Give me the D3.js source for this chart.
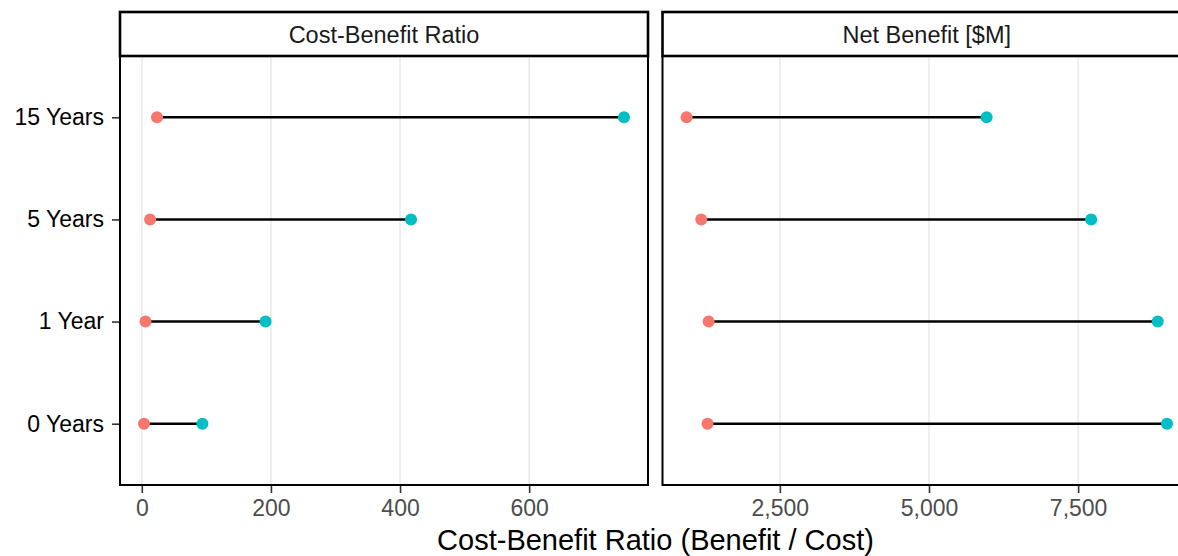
<!DOCTYPE html>
<html>
<head>
<meta charset="utf-8">
<script src="https://cdn.jsdelivr.net/npm/d3@7"></script>
<style>
html,body{margin:0;padding:0;background:#fff;overflow:hidden;}
svg{display:block;}
text{font-family:"Liberation Sans",Arial,sans-serif;}
</style>
</head>
<body>
<svg id="chart" width="1200" height="556"></svg>
<script>
const categories = ["0 Years", "1 Year", "5 Years", "15 Years"];
const ratioLow  = [3.4, 5.7, 12.8, 23.5];
const ratioHigh = [93.9, 191.7, 417, 746.9];
const netLow    = [1288, 1306, 1183, 936];
const netHigh   = [8989, 8834, 7718, 5966];
const ratioTicks = [0, 200, 400, 600];
const netTicks = [2500, 5000, 7500];
const panelTitles = ["Cost-Benefit Ratio", "Net Benefit [$M]"];
const xTitle = "Cost-Benefit Ratio (Benefit / Cost)";

const lowColor = "#F8766D", highColor = "#00BFC4";
const svg = d3.select("#chart");

const stripTop = 12, panelTop = 56, panelBottom = 485;
const panels = [
  {x0: 120, x1: 648, low: ratioLow, high: ratioHigh, ticks: ratioTicks, fmt: d3.format("d"), title: panelTitles[0]},
  {x0: 662.5, x1: 1191, low: netLow, high: netHigh, ticks: netTicks, fmt: d3.format(","), title: panelTitles[1]}
];

const y = d3.scalePoint().domain(categories).range([panelBottom, panelTop]).padding(0.6);

panels.forEach((p, pi) => {
  const all = p.low.concat(p.high);
  const [mn, mx] = d3.extent(all);
  const pad = (mx - mn) * 0.05;
  const x = d3.scaleLinear().domain([mn - pad, mx + pad]).range([p.x0, p.x1]);
  const g = svg.append("g");

  g.append("rect").attr("x", p.x0).attr("y", panelTop).attr("width", p.x1 - p.x0)
    .attr("height", panelBottom - panelTop).attr("fill", "#fff");

  g.selectAll("line.grid").data(p.ticks).enter().append("line")
    .attr("x1", d => x(d)).attr("x2", d => x(d))
    .attr("y1", panelTop).attr("y2", panelBottom)
    .attr("stroke", "#EBEBEB").attr("stroke-width", 1.6);

  const rows = categories.map((c, i) => ({c, lo: p.low[i], hi: p.high[i]}));
  g.selectAll("line.seg").data(rows).enter().append("line")
    .attr("x1", d => x(d.lo)).attr("x2", d => x(d.hi))
    .attr("y1", d => y(d.c)).attr("y2", d => y(d.c))
    .attr("stroke", "#000").attr("stroke-width", 2.4);

  g.selectAll("circle.lo").data(rows).enter().append("circle")
    .attr("cx", d => x(d.lo)).attr("cy", d => y(d.c)).attr("r", 6).attr("fill", lowColor);
  g.selectAll("circle.hi").data(rows).enter().append("circle")
    .attr("cx", d => x(d.hi)).attr("cy", d => y(d.c)).attr("r", 6).attr("fill", highColor);

  g.append("rect").attr("x", p.x0).attr("y", panelTop).attr("width", p.x1 - p.x0)
    .attr("height", panelBottom - panelTop).attr("fill", "none")
    .attr("stroke", "#000").attr("stroke-width", 2);

  g.append("rect").attr("x", p.x0).attr("y", stripTop).attr("width", p.x1 - p.x0)
    .attr("height", panelTop - stripTop).attr("fill", "#fff")
    .attr("stroke", "#000").attr("stroke-width", 2.6);
  g.append("text").attr("x", (p.x0 + p.x1) / 2).attr("y", 42.5)
    .attr("text-anchor", "middle").attr("font-size", 23.5).attr("fill", "#1A1A1A")
    .text(p.title);

  const ax = svg.append("g").attr("transform", `translate(0,${panelBottom + 1})`)
    .call(d3.axisBottom(x).tickValues(p.ticks).tickFormat(p.fmt).tickSize(7).tickPadding(7));
  ax.select(".domain").remove();
  ax.selectAll(".tick line").attr("stroke", "#333").attr("stroke-width", 1.6);
  ax.selectAll(".tick text").attr("fill", "#4D4D4D").attr("font-size", 23)
    .attr("font-family", "'Liberation Sans', Arial, sans-serif");

  if (pi === 0) {
    const ay = svg.append("g").attr("transform", `translate(${p.x0 - 1},0)`)
      .call(d3.axisLeft(y).tickSize(7).tickPadding(8));
    ay.select(".domain").remove();
    ay.selectAll(".tick line").attr("stroke", "#333").attr("stroke-width", 1.6);
    ay.selectAll(".tick text").attr("fill", "#000").attr("font-size", 23)
      .attr("font-family", "'Liberation Sans', Arial, sans-serif");
  }
});

svg.append("text").attr("x", (120 + 1191) / 2).attr("y", 550)
  .attr("text-anchor", "middle").attr("font-size", 29).attr("fill", "#000")
  .text(xTitle);
</script>
</body>
</html>
